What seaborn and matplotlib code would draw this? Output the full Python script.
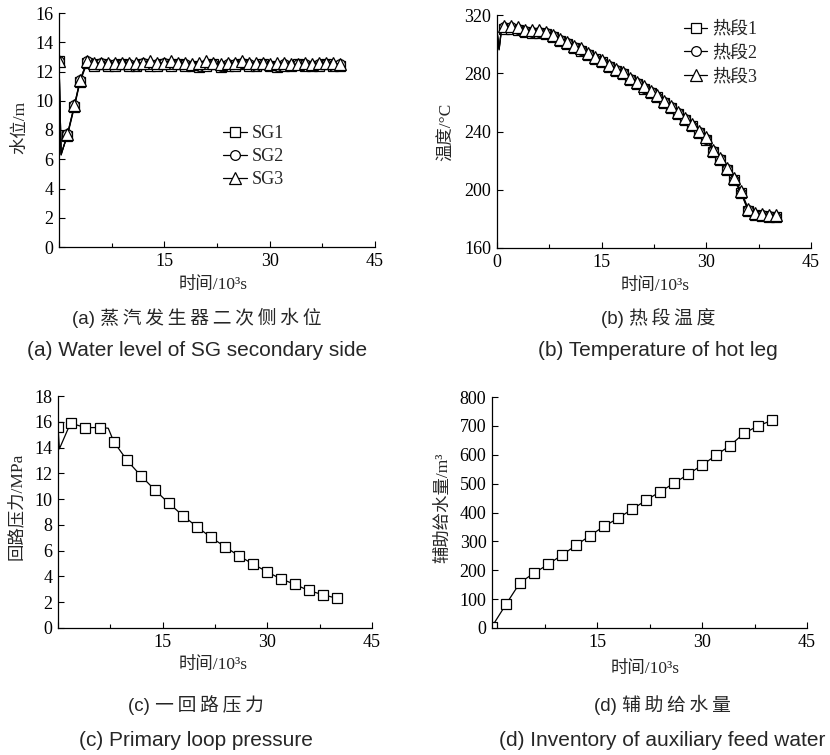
import matplotlib
matplotlib.use("Agg")
import matplotlib.pyplot as plt
import seaborn as sns
from matplotlib.ticker import MultipleLocator, FuncFormatter
from matplotlib.font_manager import FontProperties

# (a) SG secondary side water level
t_a = [0, 0.3, 1.2, 2.2, 3.0, 4.0, 5, 6, 7, 8, 9, 10, 11, 12, 13, 14, 15, 16, 17, 18, 19,
       20, 21, 22, 23, 24, 25, 26, 27, 28, 29, 30, 31, 32, 33, 34, 35, 36, 37, 38, 39, 40]
sg1 = [12.7, 6.4, 7.6, 9.6, 11.3, 12.6, 12.4, 12.5, 12.4, 12.4, 12.5, 12.4, 12.4, 12.5, 12.4,
       12.4, 12.5, 12.4, 12.5, 12.4, 12.4, 12.3, 12.4, 12.5, 12.3, 12.4, 12.4, 12.5, 12.4, 12.4,
       12.5, 12.4, 12.3, 12.4, 12.4, 12.5, 12.4, 12.4, 12.4, 12.5, 12.4, 12.4]
sg2 = [12.7, 6.3, 7.7, 9.7, 11.4, 12.7, 12.5, 12.6, 12.5, 12.5, 12.5, 12.5, 12.4, 12.6, 12.5,
       12.5, 12.6, 12.5, 12.5, 12.5, 12.4, 12.4, 12.5, 12.5, 12.4, 12.5, 12.5, 12.6, 12.5, 12.4,
       12.5, 12.4, 12.4, 12.5, 12.4, 12.5, 12.5, 12.4, 12.5, 12.5, 12.4, 12.5]
sg3 = [12.7, 6.3, 7.7, 9.7, 11.4, 12.7, 12.6, 12.6, 12.6, 12.6, 12.6, 12.6, 12.6, 12.6, 12.7,
       12.6, 12.6, 12.7, 12.6, 12.6, 12.5, 12.6, 12.7, 12.6, 12.5, 12.6, 12.6, 12.7, 12.6, 12.6,
       12.6, 12.5, 12.6, 12.6, 12.5, 12.5, 12.6, 12.5, 12.6, 12.6, 12.6, 12.5]
sg_labels = ["SG1", "SG2", "SG3"]

# (b) hot leg temperature
t_b = [0, 0.3, 0.6, 1, 2, 3, 4, 5, 6, 7, 8, 9, 10, 11, 12, 13, 14, 15, 16, 17, 18, 19, 20,
       21, 22, 23, 24, 25, 26, 27, 28, 29, 30, 31, 32, 33, 34, 35, 36, 37, 38, 39, 40]
hl1 = [309, 296, 308, 310.5, 310.5, 309.5, 308, 307.5, 307.5, 307, 305, 302, 300, 297.5, 295.5,
       292.5, 289.5, 287.5, 284.5, 281.5, 279.5, 275.5, 272.5, 269.5, 266.5, 263.5, 259.5, 256,
       252, 248, 243.5, 239, 234.5, 226, 220.5, 213.5, 206.5, 197.5, 185.5, 182.5, 182, 181.5, 181]
hl2 = [309, 296.5, 308.5, 311.5, 311.5, 310.5, 309, 308.5, 308.5, 307.5, 305.5, 302.5, 300.5,
       298, 296, 293, 290, 288, 285, 282, 280, 276, 273, 270, 267, 264, 260, 256.5, 252.5, 248.5,
       244, 239.5, 235, 226.5, 221, 214, 207, 198, 186, 183, 182.5, 182, 181.5]
hl3 = [309, 297, 309, 312.5, 312.5, 311.5, 310, 309.5, 309.5, 308.5, 306.5, 303.5, 301.5, 299,
       297, 294, 291, 289, 286, 283, 281, 277, 274, 271, 268, 265, 261, 257.5, 253.5, 249.5, 245,
       240.5, 236, 227, 222, 215, 208, 199, 187, 184, 183.5, 183, 182.5]
hl_labels = ["热段1", "热段2", "热段3"]

# (c) primary loop pressure
t_c = [0, 0.2, 1.8, 3.9, 6.0, 7.2, 8.0, 9.9, 11.9, 13.9, 15.9, 17.9, 19.9, 21.9, 23.9, 25.9,
       28.0, 29.9, 31.9, 33.9, 35.9, 38.0, 40.0]
p_c = [15.6, 13.9, 15.9, 15.55, 15.55, 15.5, 14.45, 13.0, 11.8, 10.7, 9.67, 8.72, 7.86, 7.04,
       6.32, 5.6, 4.95, 4.38, 3.82, 3.4, 2.91, 2.58, 2.3]

# (d) auxiliary feed water inventory
t_d = [0, 2, 4, 6, 8, 10, 12, 14, 16, 18, 20, 22, 24, 26, 28, 30, 32, 34, 36, 38, 40]
v_d = [5, 82, 157, 190, 220, 253, 286, 320, 352, 380, 411, 442, 472, 501, 532, 564, 598, 632,
       674, 700, 719]

captions_cn = ["(a) 蒸汽发生器二次侧水位", "(b) 热段温度", "(c) 一回路压力", "(d) 辅助给水量"]
captions_en = ["(a) Water level of SG secondary side", "(b) Temperature of hot leg",
               "(c) Primary loop pressure", "(d) Inventory of auxiliary feed water"]

sns.set_style("ticks")
plt.rcParams['font.family'] = ['Liberation Serif', 'Noto Sans CJK SC']
plt.rcParams['axes.unicode_minus'] = False
plt.rcParams['axes.edgecolor'] = 'black'
plt.rcParams['xtick.color'] = 'black'
plt.rcParams['ytick.color'] = 'black'

W, H = 830, 755
fig = plt.figure(figsize=(W / 100, H / 100), dpi=100)


def px_axes(l, t, r, b):
    return fig.add_axes([l / W, 1 - b / H, (r - l) / W, (b - t) / H])


ax_a = px_axes(59, 13, 375, 247)
ax_b = px_axes(497, 15, 811, 248)
ax_c = px_axes(58, 396, 372, 628)
ax_d = px_axes(492, 397, 807, 628)


def style(ax, ylim, ystep, show_x0=False):
    ax.set_xlim(0, 45)
    ax.set_ylim(*ylim)
    ax.xaxis.set_major_locator(MultipleLocator(15))
    ax.xaxis.set_minor_locator(MultipleLocator(7.5))
    ax.yaxis.set_major_locator(MultipleLocator(ystep))
    if not show_x0:
        ax.xaxis.set_major_formatter(FuncFormatter(lambda v, p: '' if v == 0 else f'{v:g}'))
    else:
        ax.xaxis.set_major_formatter(FuncFormatter(lambda v, p: f'{v:g}'))
    ax.yaxis.set_major_formatter(FuncFormatter(lambda v, p: f'{v:g}'))
    sns.despine(ax=ax)
    for s in ['left', 'bottom']:
        ax.spines[s].set_linewidth(0.9)
    ax.tick_params(which='major', direction='in', length=4, width=0.8, labelsize=13, pad=4)
    ax.tick_params(which='minor', direction='in', length=3, width=0.8)
    ax.grid(False)


def draw(ax, t, v, marker, ms, label=None, skip=()):
    mevery = [i for i in range(len(t)) if i not in skip]
    sns.lineplot(x=t, y=v, ax=ax, color='black', linewidth=0.9, marker=marker, markersize=ms,
                 markerfacecolor='white', markeredgecolor='black', markeredgewidth=0.9,
                 markevery=mevery, label=label, sort=False, estimator=None)


leg_font = FontProperties(family=['Liberation Serif', 'Noto Sans CJK SC'], size=13)

# (a)
for vals, mk, ms, lab in zip([sg1, sg2, sg3], ['s', 'o', '^'], [7, 7, 8.5], sg_labels):
    draw(ax_a, t_a, vals, mk, ms, lab, skip=(1,))
style(ax_a, (0, 16), 2)
ax_a.legend(frameon=False, loc='upper left', bbox_to_anchor=(0.52, 0.52), borderpad=0,
            borderaxespad=0, handlelength=1.3, handletextpad=0.3, labelspacing=0.32, prop=leg_font)

# (b)
for vals, mk, ms, lab in zip([hl1, hl2, hl3], ['s', 'o', '^'], [7, 7, 8.5], hl_labels):
    draw(ax_b, t_b, vals, mk, ms, lab, skip=(0, 1, 2))
style(ax_b, (160, 320), 40, show_x0=True)
ax_b.legend(frameon=False, loc='upper left', bbox_to_anchor=(0.595, 0.975), borderpad=0,
            borderaxespad=0, handlelength=1.3, handletextpad=0.3, labelspacing=0.38, prop=leg_font)

# (c)
draw(ax_c, t_c, p_c, 's', 7.5, skip=(1, 5))
style(ax_c, (0, 18), 2)

# (d)
draw(ax_d, t_d, v_d, 's', 7.5)
style(ax_d, (0, 800), 100)

for ax in [ax_c, ax_d]:
    if ax.get_legend() is not None:
        ax.get_legend().remove()

lab_font = dict(fontsize=12.5)
ylabels = ["水位/m", "温度/°C", "回路压力/MPa", "辅助给水量/m³"]
ylab_pos = [(-0.098, 0.513), (-0.134, 0.498), (-0.105, 0.526), (-0.13, 0.519)]
xlab_pos = [(0.487, -0.13), (0.503, -0.128), (0.494, -0.124), (0.486, -0.142)]
for ax, yl, yp, xp in zip([ax_a, ax_b, ax_c, ax_d], ylabels, ylab_pos, xlab_pos):
    ax.set_ylabel(yl, **lab_font)
    ax.set_xlabel("时间/10³s", **lab_font)
    ax.yaxis.set_label_coords(*yp)
    ax.xaxis.set_label_coords(*xp)

cap_family = ['Liberation Sans', 'DejaVu Sans', 'Noto Sans CJK SC']
cap_x = [197, 658, 196, 662]
cap_y = [(318, 351), (318, 351), (705, 740), (705, 740)]
for cn, en, x, (ycn, yen) in zip(captions_cn, captions_en, cap_x, cap_y):
    head, body = cn.split(' ', 1)
    cn_spaced = head + ' ' + '\u2009'.join(body)
    fig.text(x / W, 1 - ycn / H, cn_spaced, family=cap_family, fontsize=13.5,
             ha='center', va='center')
    fig.text(x / W, 1 - yen / H, en, family=cap_family, fontsize=15,
             ha='center', va='center')

fig.savefig("out.png", dpi=100)
